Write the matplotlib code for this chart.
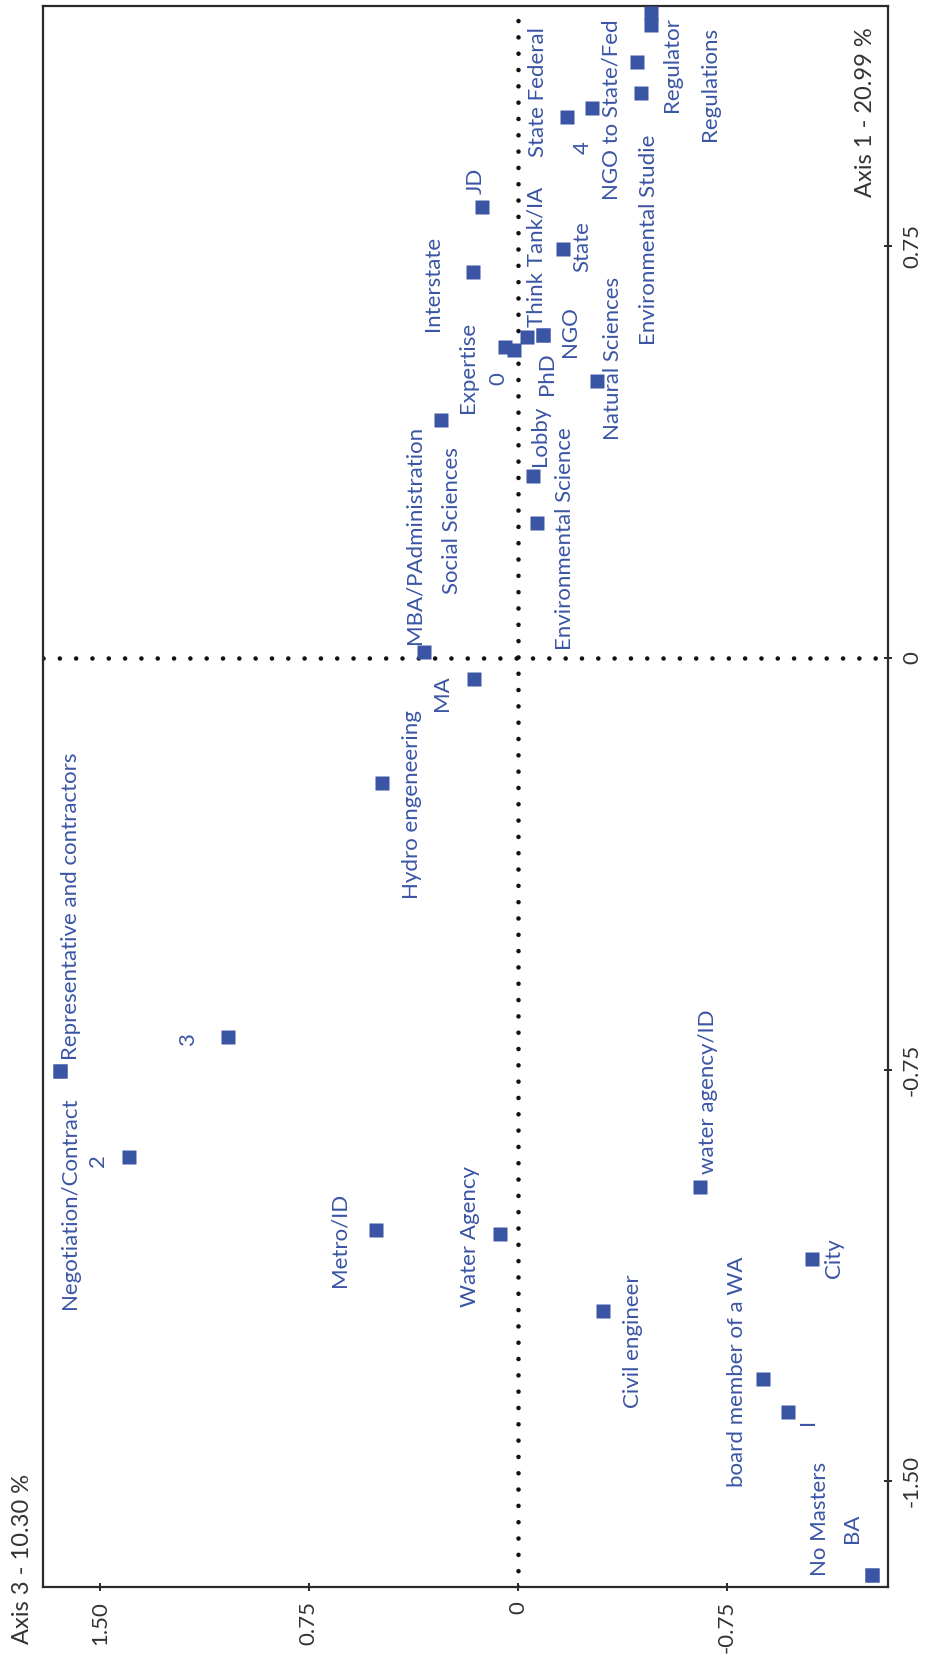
import matplotlib
matplotlib.use("Agg")
import matplotlib.pyplot as plt

# correspondence analysis map, drawn on a portrait page (rotated reading)
labels = ["Regulations", "Regulator", "NGO to State/Fed", "Environmental Studie",
          "State Federal", "4", "JD", "Interstate", "State", "Think Tank/IA", "NGO",
          "PhD", "0", "Expertise", "Natural Sciences", "Social Sciences", "Lobby",
          "Environmental Science", "MBA/PAdministration", "MA", "Hydro engeneering",
          "Representative and contractors", "Negotiation/Contract", "3", "2",
          "Metro/ID", "Water Agency", "water agency/ID", "City", "Civil engineer",
          "board member of a WA", "I", "BA", "No Masters"]
axis1 = [1.175, 1.153, 1.086, 1.029, 0.985, 1.002, 0.821, 0.704, 0.745, 0.589, 0.589,
         0.584, 0.562, 0.566, 0.504, 0.434, 0.332, 0.245, 0.011, -0.038, -0.228,
         -0.752, -0.752, -0.690, -0.909, -1.042, -1.049, -0.965, -1.095, -1.190,
         -1.314, -1.374, -1.672, -1.672]
axis3 = [-0.477, -0.477, -0.427, -0.441, -0.176, -0.265, 0.129, 0.161, -0.161, -0.090,
         -0.090, -0.032, 0.014, 0.047, -0.283, 0.276, -0.054, -0.068, 0.337, 0.158,
         0.487, 1.642, 1.642, 1.039, 1.394, 0.509, 0.065, -0.652, -1.057, -0.305,
         -0.878, -0.968, -1.269, -1.269]

# label placement relative to its square (pixels)
label_off = [(59, -71), (21, -39), (-25, -48), (8, -147), (-29, 25), (-9, -39),
             (-6, 27), (-40, -12), (20, 3), (-6, 78), (27, 3), (20, -36), (-16, -29),
             (-37, -20), (16, 23), (11, -101), (7, 40), (28, -15), (-9, 117),
             (-32, -14), (30, -22), (11, 164), (10, -133), (-40, -3), (-31, -4),
             (-37, -10), (-30, -3), (8, 96), (22, 1), (30, -30), (-26, 7), (20, -10),
             (-20, 47), (-52, 57)]

ticks3 = [1.5, 0.75, 0, -0.75]
ticks3_lab = ["1.50", "0.75", "0", "-0.75"]
ticks1 = [0.75, 0, -0.75, -1.5]
ticks1_lab = ["0.75", "0", "-0.75", "-1.50"]

blue = "#3a55a4"
ink = "#2a2a2a"

W, H = 925, 1659
fig = plt.figure(figsize=(W / 100, H / 100), dpi=100)
ax = fig.add_axes([43 / W, 1 - 1587 / H, 845 / W, 1581 / H])

ax.axhline(0, color="#111111", lw=3.3, linestyle=(0, (0.01, 3.55)),
           dash_capstyle="round", zorder=1)
ax.axvline(0, color="#111111", lw=3.3, linestyle=(0, (0.01, 3.55)),
           dash_capstyle="round", zorder=1)

ax.plot(axis3, axis1, linestyle="none", marker="s", ms=9.4, color=blue,
        mec="none", zorder=3)

for name, x, y, off in zip(labels, axis3, axis1, label_off):
    ax.annotate(name, (x, y), xytext=off, textcoords="offset pixels",
                rotation=90, ha="center", va="center", color=blue,
                fontsize=16, family="Lato")

ax.set_xlim(1.704, -1.328)
ax.set_ylim(-1.693, 1.188)

ax.set_xticks(ticks3)
ax.set_xticklabels(ticks3_lab, rotation=90, family="Lato", fontsize=16, color="#333333")
ax.set_yticks(ticks1)
ax.set_yticklabels(ticks1_lab, rotation=90, va="center", family="Lato",
                   fontsize=16, color="#333333")
ax.tick_params(axis="y", left=False, right=True, labelleft=False, labelright=True)
ax.tick_params(direction="inout", length=6, width=1.4, color=ink, pad=7)

for sp in ax.spines.values():
    sp.set_linewidth(1.6)
    sp.set_color(ink)

fig.text(23 / W, 1 - 1559 / H, "Axis 3 - 10.30 %", rotation=90, ha="center",
         va="center", fontsize=17, family="Lato", color="#333333")
fig.text(865 / W, 1 - 112 / H, "Axis 1 - 20.99 %", rotation=90, ha="center",
         va="center", fontsize=17, family="Lato", color="#333333")

fig.savefig("out.png", dpi=100)
